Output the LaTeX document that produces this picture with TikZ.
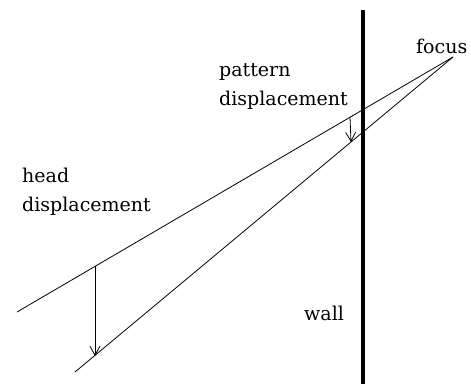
\documentclass[tikz,border=0pt]{standalone}
\usepackage{fontspec}
\setmainfont{DejaVu Serif}
\usetikzlibrary{arrows.meta}
\begin{document}
\begin{tikzpicture}[x=1pt,y=-1pt,
  ray/.style={line width=0.8pt, black},
  disp/.style={line width=0.8pt, black, -{Straight Barb[length=9pt,width=10pt,line width=0.8pt]}},
  lbl/.style={font=\fontsize{19}{29}\selectfont, inner sep=0pt, anchor=base west, align=left},
  wallline/.style={line width=4pt, black}]
\fill[white] (0,0) rectangle (471,384);
\useasboundingbox (0,0) rectangle (471,384);
% points
\coordinate (F) at (453,57);
\coordinate (U) at (17,312);
\coordinate (L) at (75,372);
\coordinate (W1) at (363,10);
\coordinate (W2) at (363,384);
\coordinate (A1) at (95,266);
\coordinate (A2) at (95,356);
\coordinate (B1) at (350,117);
\coordinate (B2) at (351,142);
% wall
\draw[wallline] (W1) -- (W2);
% rays
\draw[ray] (U) -- (F);
\draw[ray] (L) -- (F);
% displacement arrows
\draw[disp] (A1) -- (A2);
\draw[disp] (B1) -- (B2);
% labels
\node[lbl] (focus) at (416,53) {focus};
\node[lbl] (pat) at (219,105) {pattern\\displacement};
\node[lbl] (head) at (22,211) {head\\displacement};
\node[lbl] (wall) at (304,320) {wall};
\end{tikzpicture}
\end{document}
